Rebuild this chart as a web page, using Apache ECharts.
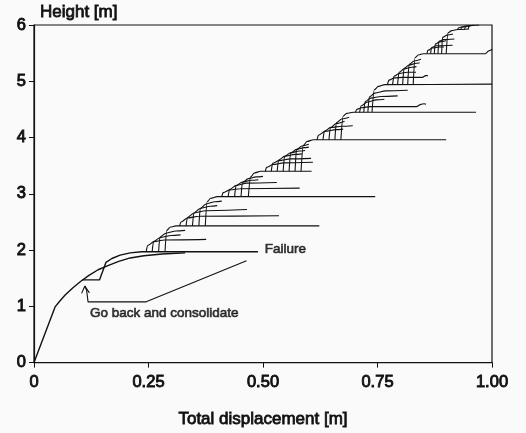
<!DOCTYPE html>
<html>
<head>
<meta charset="utf-8">
<script src="https://cdn.jsdelivr.net/npm/echarts@6/dist/echarts.min.js"></script>
<style>
  html, body { margin: 0; padding: 0; background: #fafafa; }
  #chart { width: 526px; height: 433px; }
</style>
</head>
<body>
<div id="chart"></div>
<script>
// axis ticks
const xTicks = [0, 0.25, 0.5, 0.75, 1.0];
const yTicks = [0, 1, 2, 3, 4, 5, 6];

// first loading curve, runs on into the failure line
const stage0 = [[0, 0], [0.046, 0.99], [0.056, 1.09], [0.068, 1.2], [0.085, 1.33], [0.103, 1.45],
  [0.12, 1.55], [0.14, 1.65], [0.16, 1.72], [0.185, 1.8], [0.21, 1.86], [0.24, 1.9],
  [0.28, 1.93], [0.33, 1.95]];

// go back to 1.47 m, consolidate, load again
const goBack = [[0.105, 1.47], [0.143, 1.47], [0.157, 1.78], [0.17, 1.85], [0.188, 1.91],
  [0.21, 1.95], [0.235, 1.97], [0.3, 1.97], [0.489, 1.97]];

// reloading branches of each stage: foot, knee, bend, failure level, end
const block2 = [
  [[0.245, 1.97], [0.248, 2.08], [0.262, 2.15], [0.285, 2.18], [0.376, 2.19]],
  [[0.258, 1.97], [0.261, 2.15], [0.275, 2.22], [0.3, 2.26], [0.32, 2.27]],
  [[0.272, 1.97], [0.275, 2.23], [0.288, 2.3], [0.31, 2.34], [0.33, 2.35]],
  [[0.286, 1.97], [0.29, 2.35], [0.298, 2.41], [0.31, 2.43], [0.623, 2.43]]
];
const block3 = [
  [[0.318, 2.43], [0.321, 2.5], [0.335, 2.57], [0.36, 2.6], [0.535, 2.61]],
  [[0.332, 2.43], [0.335, 2.58], [0.35, 2.66], [0.375, 2.7], [0.465, 2.72]],
  [[0.346, 2.43], [0.349, 2.66], [0.363, 2.74], [0.385, 2.78], [0.4, 2.79]],
  [[0.36, 2.43], [0.363, 2.74], [0.376, 2.82], [0.395, 2.86], [0.41, 2.87]],
  [[0.374, 2.43], [0.378, 2.86], [0.386, 2.92], [0.4, 2.95], [0.745, 2.95]]
];
const block4 = [
  [[0.41, 2.95], [0.413, 3.02], [0.428, 3.07], [0.45, 3.09], [0.58, 3.1]],
  [[0.424, 2.95], [0.427, 3.08], [0.442, 3.15], [0.465, 3.19], [0.53, 3.2]],
  [[0.438, 2.95], [0.441, 3.14], [0.455, 3.21], [0.475, 3.24], [0.49, 3.25]],
  [[0.452, 2.95], [0.455, 3.2], [0.468, 3.27], [0.485, 3.3], [0.5, 3.31]],
  [[0.468, 2.95], [0.473, 3.3], [0.481, 3.37], [0.495, 3.4], [0.606, 3.4]]
];
const block5 = [
  [[0.505, 3.4], [0.508, 3.47], [0.522, 3.52], [0.545, 3.55], [0.609, 3.56]],
  [[0.518, 3.4], [0.521, 3.54], [0.535, 3.59], [0.56, 3.62], [0.605, 3.63]],
  [[0.531, 3.4], [0.534, 3.6], [0.548, 3.67], [0.57, 3.7], [0.585, 3.71]],
  [[0.544, 3.4], [0.547, 3.66], [0.56, 3.73], [0.58, 3.76], [0.592, 3.77]],
  [[0.557, 3.4], [0.56, 3.72], [0.573, 3.79], [0.59, 3.82], [0.6, 3.83]],
  [[0.57, 3.4], [0.573, 3.78], [0.585, 3.85], [0.6, 3.88]],
  [[0.583, 3.4], [0.588, 3.86], [0.596, 3.93], [0.61, 3.96], [0.9, 3.96]]
];
const block6 = [
  [[0.618, 3.96], [0.621, 4.04], [0.635, 4.11], [0.66, 4.14], [0.675, 4.15]],
  [[0.631, 3.96], [0.634, 4.11], [0.648, 4.18], [0.672, 4.2], [0.696, 4.21]],
  [[0.644, 3.96], [0.647, 4.17], [0.66, 4.25], [0.678, 4.29]],
  [[0.657, 3.96], [0.66, 4.26], [0.672, 4.33], [0.688, 4.36]],
  [[0.67, 3.96], [0.675, 4.38], [0.683, 4.43], [0.697, 4.45], [0.965, 4.45]]
];
const block7 = [
  [[0.702, 4.45], [0.705, 4.5], [0.715, 4.53], [0.735, 4.55], [0.835, 4.55], [0.845, 4.59], [0.852, 4.6], [0.856, 4.59]],
  [[0.711, 4.45], [0.714, 4.56], [0.727, 4.63], [0.748, 4.67], [0.765, 4.68]],
  [[0.72, 4.45], [0.723, 4.64], [0.735, 4.7], [0.758, 4.73], [0.794, 4.74]],
  [[0.729, 4.45], [0.732, 4.72], [0.744, 4.79], [0.768, 4.83], [0.816, 4.84]],
  [[0.738, 4.45], [0.743, 4.85], [0.752, 4.91], [0.766, 4.94], [1.0, 4.95]]
];
const block8 = [
  [[0.772, 4.95], [0.775, 5.02], [0.787, 5.06], [0.805, 5.07], [0.848, 5.07], [0.855, 5.1], [0.86, 5.1]],
  [[0.783, 4.95], [0.786, 5.09], [0.798, 5.14], [0.815, 5.16], [0.834, 5.16]],
  [[0.794, 4.95], [0.797, 5.16], [0.808, 5.22], [0.825, 5.25], [0.835, 5.26]],
  [[0.805, 4.95], [0.808, 5.23], [0.819, 5.29], [0.835, 5.32], [0.842, 5.33]],
  [[0.816, 4.95], [0.819, 5.3], [0.83, 5.36], [0.845, 5.39]],
  [[0.828, 4.95], [0.832, 5.42], [0.84, 5.47], [0.85, 5.49], [0.985, 5.49], [0.993, 5.54], [1.0, 5.57]]
];
const block9 = [
  [[0.858, 5.49], [0.86, 5.55], [0.87, 5.59], [0.885, 5.61], [0.895, 5.61]],
  [[0.866, 5.49], [0.868, 5.6], [0.878, 5.63], [0.914, 5.64]],
  [[0.874, 5.49], [0.876, 5.66], [0.886, 5.7], [0.9, 5.72]],
  [[0.882, 5.49], [0.884, 5.71], [0.894, 5.74], [0.918, 5.75]],
  [[0.89, 5.49], [0.892, 5.78], [0.902, 5.82], [0.915, 5.84]],
  [[0.9, 5.49], [0.904, 5.86], [0.912, 5.9], [0.925, 5.92], [0.95, 5.93]]
];
const block10 = [
  [[0.925, 5.92], [0.927, 5.95], [0.935, 5.97], [0.945, 5.975]],
  [[0.932, 5.92], [0.934, 5.96], [0.942, 5.98], [0.952, 5.985]],
  [[0.94, 5.92], [0.942, 5.97], [0.95, 5.99], [0.96, 5.99]],
  [[0.948, 5.93], [0.95, 5.98], [0.958, 5.995], [0.972, 6.0]]
];

// annotation
const arrowHead = [[0.104, 1.23], [0.111, 1.36], [0.121, 1.24]];
const leader = [[0.111, 1.36], [0.115, 1.28], [0.118, 1.08], [0.245, 1.08], [0.464, 1.81]];
const notes = [
  { text: 'Failure', x: 0.504, y: 2.02 },
  { text: 'Go back and consolidate', x: 0.122, y: 0.87 }
];

const ink = '#111';
const font = '"Liberation Sans", Arial, sans-serif';

function lineSeries(pts, width, smooth) {
  return {
    type: 'line',
    data: pts,
    showSymbol: false,
    smooth: smooth,
    smoothMonotone: 'x',
    silent: true,
    lineStyle: { color: ink, width: width }
  };
}

const series = [];
series.push(lineSeries(stage0, 1.4, false));
series.push(lineSeries(goBack, 1.4, false));
[block2, block3, block4, block5, block6, block7, block8, block9, block10].forEach(b => {
  b.forEach(pts => series.push(lineSeries(pts, 1.1, 0.3)));
});
series.push(lineSeries(arrowHead, 1.1, false));
series.push(lineSeries(leader, 1.1, false));
series.push({
  type: 'scatter',
  symbolSize: 0,
  silent: true,
  data: notes.map(n => ({ value: [n.x, n.y], name: n.text })),
  label: {
    show: true,
    position: 'right',
    distance: 0,
    formatter: p => p.name,
    color: ink,
    fontSize: 13.5,
    fontFamily: font,
    textBorderColor: ink,
    textBorderWidth: 0.7
  }
});

const labelStyle = {
  color: ink, fontSize: 16.5, fontFamily: font,
  textBorderColor: ink, textBorderWidth: 0.9
};
const nameStyle = {
  color: ink, fontSize: 17, fontFamily: font,
  textBorderColor: ink, textBorderWidth: 0.8
};

const chart = echarts.init(document.getElementById('chart'));
chart.setOption({
  animation: false,
  backgroundColor: '#fafafa',
  grid: { left: 34, right: 34, top: 25, bottom: 69, show: true, borderColor: ink, borderWidth: 1.2 },
  xAxis: {
    type: 'value',
    min: xTicks[0],
    max: xTicks[xTicks.length - 1],
    interval: 0.25,
    name: 'Total displacement [m]',
    nameLocation: 'middle',
    nameGap: 48,
    nameTextStyle: nameStyle,
    axisLine: { lineStyle: { color: ink, width: 1.2 } },
    axisTick: { length: 5, lineStyle: { color: ink } },
    axisLabel: Object.assign({ margin: 11, formatter: v => (v === 0 ? '0' : v.toFixed(2)) }, labelStyle),
    splitLine: { show: false }
  },
  yAxis: {
    type: 'value',
    min: yTicks[0],
    max: yTicks[yTicks.length - 1],
    interval: 1,
    name: 'Height [m]',
    nameLocation: 'end',
    nameGap: 4,
    nameTextStyle: Object.assign({ align: 'left', padding: [0, 0, 0, 6] }, nameStyle),
    axisLine: { lineStyle: { color: ink, width: 1.2 } },
    axisTick: { length: 5, lineStyle: { color: ink } },
    axisLabel: Object.assign({ margin: 8 }, labelStyle),
    splitLine: { show: false }
  },
  series: series
});
</script>
</body>
</html>
